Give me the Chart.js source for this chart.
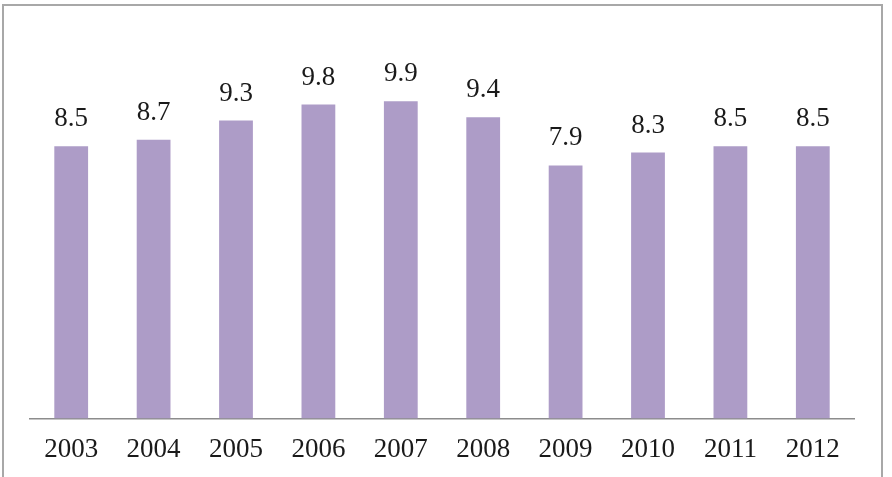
<!DOCTYPE html>
<html>
<head>
<meta charset="utf-8">
<script src="https://cdn.jsdelivr.net/npm/chart.js@4"></script>
<style>
  html, body { margin: 0; padding: 0; background: #fff; }
  #wrap { position: relative; width: 892px; height: 477px; overflow: hidden; }
  #frame { position: absolute; left: 2px; top: 4px; width: 881px; height: 490px;
           border: 2px solid #a8a8a8; box-sizing: border-box; }
  canvas { position: absolute; left: 0; top: 0; }
</style>
</head>
<body>
<div id="wrap">
  <div id="frame"></div>
  <canvas id="chart" width="892" height="477"></canvas>
</div>
<script>
// Years and values
const years = ['2003', '2004', '2005', '2006', '2007', '2008', '2009', '2010', '2011', '2012'];
const values = [8.5, 8.7, 9.3, 9.8, 9.9, 9.4, 7.9, 8.3, 8.5, 8.5];

const serif = '"Liberation Serif", "Times New Roman", serif';

// Draw the value above each bar
const valueLabels = {
    id: 'valueLabels',
    afterDatasetsDraw(chart) {
        const ctx = chart.ctx;
        const meta = chart.getDatasetMeta(0);
        ctx.save();
        ctx.font = '27px ' + serif;
        ctx.fillStyle = '#1a1a1a';
        ctx.textAlign = 'center';
        ctx.textBaseline = 'middle';
        meta.data.forEach((bar, i) => {
            ctx.fillText(values[i].toFixed(1), bar.x, bar.y - 27);
        });
        ctx.restore();
    }
};

const ctx = document.getElementById('chart').getContext('2d');
const chart = new Chart(ctx, {
    type: 'bar',
    data: {
        labels: years,
        datasets: [{
            data: values,
            backgroundColor: '#ad9cc7',
            borderWidth: 0,
            barPercentage: 0.41,
            categoryPercentage: 1,
        }]
    },
    options: {
        responsive: false,
        animation: false,
        layout: { padding: { left: 30, right: 38, top: 34, bottom: -4 } },
        plugins: { legend: { display: false }, tooltip: { enabled: false } },
        scales: {
            x: {
                grid: { display: false, drawTicks: false },
                border: { display: true, color: '#8c8c8c', width: 1.5 },
                ticks: { color: '#1a1a1a', font: { family: serif, size: 27 }, padding: 15 },
            },
            y: {
                display: false,
                min: 0,
                max: 12,
            }
        }
    },
    plugins: [valueLabels]
});
</script>
</body>
</html>
